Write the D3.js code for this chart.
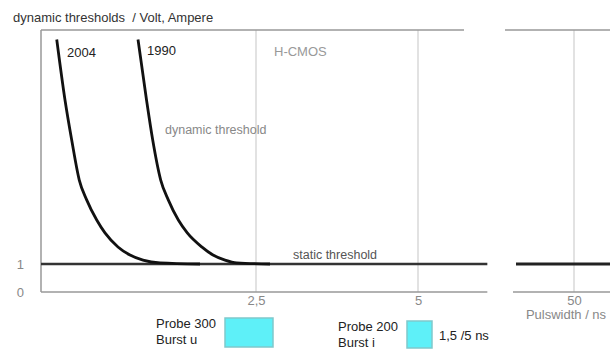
<!DOCTYPE html>
<html><head><meta charset="utf-8">
<script src="https://cdn.jsdelivr.net/npm/d3@7"></script>
<style>
body{margin:0;background:#fff;}
svg{display:block;font-family:"Liberation Sans",Arial,sans-serif;}
</style></head>
<body><svg id="c" width="610" height="352"></svg>
<script>
// ---- data ----
const curve2004X = [0.183,0.279,0.357,0.445,0.531,0.648,0.744,0.895,1.035,1.186,1.384,1.849];
const curve2004Y = [9.02,6.86,5.43,4.0,3.29,2.57,2.11,1.61,1.32,1.14,1.04,1.0];
const curve1990X = [1.128,1.227,1.299,1.392,1.480,1.597,1.701,1.869,2.0,2.140,2.276,2.716];
const curve1990Y = [9.02,6.86,5.43,4.0,3.29,2.57,2.11,1.61,1.32,1.14,1.04,1.0];
const staticThreshold = 1;
const xTicks1 = [2.5, 5];
const xTicks2 = [50];
const yTicks = [0, 1];
const yTop = 9.36;
// panel extents (data units)
const topLine1 = [0, 5.71], bottomLine1 = [0, 6.07], thresh1 = [0, 6.07];
const topLine2 = [43.1, 53.6], bottomLine2 = [43.9, 53.6], thresh2 = [44.2, 53.6];
const legendItems = [
  {l1:"Probe 300", l2:"Burst u", note:""},
  {l1:"Probe 200", l2:"Burst i", note:"1,5 /5 ns"}
];

// ---- scales ----
const svg = d3.select("#c");
const x1 = d3.scaleLinear().domain([0, 2.5, 5]).range([41, 256, 418]);
const x2 = d3.scaleLinear().domain([45, 55]).range([524, 624]);
const y = d3.scaleLinear().domain([0, yTop]).range([292, 30]);
const fmt = d => String(d).replace(".", ",");

// gridlines
const grid = [...xTicks1.map(v => x1(v)), ...xTicks2.map(v => x2(v))];
svg.selectAll("line.grid").data(grid).join("line")
  .attr("x1", d => d).attr("x2", d => d)
  .attr("y1", y(yTop)).attr("y2", y(0))
  .attr("stroke", "#cfcfcf").attr("stroke-width", 1.2);

// frame lines
function hline(sc, ext, yv, color, w) {
  svg.append("line").attr("x1", sc(ext[0])).attr("x2", sc(ext[1]))
    .attr("y1", y(yv)).attr("y2", y(yv)).attr("stroke", color).attr("stroke-width", w);
}
hline(x1, topLine1, yTop, "#999", 1.5);
hline(x2, topLine2, yTop, "#999", 1.5);
hline(x1, bottomLine1, 0, "#999", 1.5);
hline(x2, bottomLine2, 0, "#999", 1.5);
svg.append("line").attr("x1", x1(0)).attr("x2", x1(0))
  .attr("y1", y(yTop)).attr("y2", y(0)).attr("stroke", "#999").attr("stroke-width", 1.5);
hline(x1, thresh1, staticThreshold, "#333", 2.4);
hline(x2, thresh2, staticThreshold, "#222", 2.8);

// axes
const ax1 = svg.append("g").attr("transform", `translate(0,${y(0)})`)
  .call(d3.axisBottom(x1).tickValues(xTicks1).tickSize(0).tickPadding(4).tickFormat(fmt));
const ax2 = svg.append("g").attr("transform", `translate(0,${y(0)})`)
  .call(d3.axisBottom(x2).tickValues(xTicks2).tickSize(0).tickPadding(4).tickFormat(fmt));
const ay = svg.append("g").attr("transform", `translate(${x1(0)},0)`)
  .call(d3.axisLeft(y).tickValues(yTicks).tickSize(0).tickPadding(17).tickFormat(fmt));
[ax1, ax2, ay].forEach(g => {
  g.select(".domain").remove();
  g.selectAll("text").attr("fill", "#888").style("font-size", "13px")
    .style("font-family", '"Liberation Sans",Arial,sans-serif');
});
ay.selectAll("text").attr("dy", "0.38em");

// curves
const line = d3.line().x(d => x1(d[0])).y(d => y(d[1])).curve(d3.curveMonotoneX);
[[curve2004X, curve2004Y], [curve1990X, curve1990Y]].forEach(([xs, ys]) => {
  svg.append("path").attr("d", line(xs.map((v, i) => [v, ys[i]])))
    .attr("fill", "none").attr("stroke", "#111").attr("stroke-width", 2.8);
});

// texts
function txt(xp, yp, s, color, size, anchor) {
  svg.append("text").attr("x", xp).attr("y", yp).text(s)
    .attr("fill", color).style("font-size", size + "px")
    .attr("text-anchor", anchor || "start").style("white-space", "pre");
}
txt(13, 22, "dynamic thresholds  / Volt, Ampere", "#333", 13);
txt(67, 57, "2004", "#222", 13);
txt(147, 55, "1990", "#222", 13);
txt(274, 56, "H-CMOS", "#999", 13);
txt(165, 134, "dynamic threshold", "#888", 12.5);
txt(293, 259, "static threshold", "#555", 12.5);
txt(x2(50) - 8, 319, "Pulswidth / ns", "#888", 13, "middle");

// legend
const lg = [
  {tx:156, ty:328, bx:225, by:318, bw:48, bh:29},
  {tx:338, ty:331, bx:407, by:321, bw:25, bh:27}
];
legendItems.forEach((it, i) => {
  const p = lg[i];
  txt(p.tx, p.ty, it.l1, "#222", 13);
  txt(p.tx, p.ty + 15.5, it.l2, "#222", 13);
  svg.append("rect").attr("x", p.bx).attr("y", p.by).attr("width", p.bw).attr("height", p.bh)
    .attr("fill", "#5ef0f8").attr("stroke", "#7fc9cc").attr("stroke-width", 1.5);
  if (it.note) txt(p.bx + p.bw + 7, p.ty + 9, it.note, "#222", 13);
});
</script></body></html>
